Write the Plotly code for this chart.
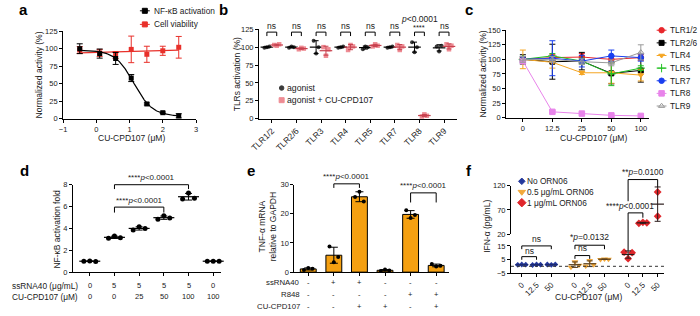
import numpy as np
import plotly.graph_objects as go

W, H = 700, 316
FONT = "Liberation Sans, Arial, Helvetica, sans-serif"
INK = "#1a1a1a"

# ======================= DATA =======================
# (a) dose response, log10 concentration
a_log_conc = [-0.5, 0.1, 0.58, 1.05, 1.52, 2.0, 2.48]
a_nfkb = [100, 93, 86, 58, 21, 8.5, 4]
a_nfkb_sd = [7, 6.5, 8.5, 5, 1.5, 1, 3]
a_viability = [98, 94, 91, 99, 92, 97, 102]
a_viability_sd = [5, 5, 5, 19, 11.5, 6.5, 15.5]
a_xticks = [-1, 0, 1, 2, 3]

# (b) TLR selectivity, replicates
b_tlrs = ["TLR1/2", "TLR2/6", "TLR3", "TLR4", "TLR5", "TLR7", "TLR8", "TLR9"]
b_agonist_reps = [[99, 100, 101], [99, 101, 100], [109, 91, 100], [99, 100, 101],
                  [97, 101, 100], [99, 100, 101], [107, 93, 100], [101, 94, 102]]
b_cu_reps = [[103, 102, 104], [97, 99, 98], [100, 88, 97], [96, 103, 101],
             [101, 104, 102], [103, 96, 101], [3, 6, 4], [104, 97, 102]]
b_sig = ["ns", "ns", "ns", "ns", "ns", "ns", "****", "ns"]
b_tlr8_p = "<i>p</i>&lt;0.0001"

# (c) concentration series per TLR
c_conc_labels = ["0", "12.5", "25", "50", "100"]
c_tlr12 = [100, 103, 104, 100, 103]
c_tlr12_sd = [4, 5, 6, 5, 5]
c_tlr26 = [100, 96, 97, 76, 81]
c_tlr26_sd = [8, 30, 15, 18, 20]
c_tlr4 = [100, 95, 77, 77, 73]
c_tlr4_sd = [16, 10, 3, 18, 10]
c_tlr5 = [100, 106, 97, 75, 85]
c_tlr5_sd = [5, 4, 5, 20, 4]
c_tlr7 = [100, 102, 97, 106, 103]
c_tlr7_sd = [5, 30, 10, 10, 6]
c_tlr8 = [97, 10, 7, 4, 3]
c_tlr8_sd = [3, 2, 2, 2, 2]
c_tlr9 = [100, 100, 96, 94, 112]
c_tlr9_sd = [5, 5, 5, 5, 13]
c_names = ["TLR1/2", "TLR2/6", "TLR4", "TLR5", "TLR7", "TLR8", "TLR9"]

# (d) NF-kB activation fold
d_ssrna40 = ["0", "5", "5", "5", "5", "0"]
d_cu = ["0", "0", "25", "50", "100", "100"]
d_fold_reps = [[1.0, 1.02, 0.98], [3.1, 3.3, 3.15], [3.85, 4.15, 4.0],
               [4.85, 5.15, 4.95], [6.7, 7.25, 6.75], [1.0, 1.0, 1.0]]

# (e) TNF-a mRNA
e_ssrna40 = ["-", "+", "+", "-", "-", "-"]
e_r848 = ["-", "-", "-", "-", "+", "+"]
e_cu = ["-", "-", "+", "+", "-", "+"]
e_tnf_reps = [[0.7, 1.4, 1.2], [8.8, 3.4, 5.2], [25.8, 27.6, 24.2],
              [0.4, 0.9, 0.6], [21.2, 18.6, 19.6], [2.8, 1.9, 2.2]]

# (f) IFN-a
f_conc_labels = ["0", "12.5", "50"]
f_groups = ["No ORN06", "0.5 μg/mL ORN06", "1 μg/mL ORN06"]
f_no_reps = [[1.1, 1.3, 1.2], [1.0, 1.4, 1.2], [1.3, 1.1, 1.4]]
f_05_reps = [[-0.6, 3.4, 0.8], [0.3, 4.3, 1.1], [5.0, 5.4, 5.2]]
f_1_reps = [[10.4, 5.6, 10.0], [42.5, 44.5, 43.5], [107, 57]]

# ======================= GEOMETRY (pixels) =======================
BOX = {
    'a': dict(px=(55, 190), py=(28, 118), xr=(-1, 3), yr=(0, 125)),
    'b': dict(px=(254, 455), py=(26, 118), xr=(-0.52, 7.52), yr=(0, 125)),
    'c': dict(px=(505, 650), py=(27, 117), xr=(-0.57, 4.27), yr=(0, 150)),
    'd': dict(px=(65, 215), py=(186, 276), xr=(-0.68, 5.3), yr=(0, 8)),
    'e': dict(px=(290, 447), py=(186, 276), xr=(-0.54, 5.5), yr=(0, 30)),
    'f': dict(px=(510, 665), py=(249, 277), xr=(-0.73, 9.6), yr=(-5, 15)),
    'ft': dict(px=(510, 665), py=(187, 237), xr=(-0.73, 9.6), yr=(20, 120)),
}
F_GROUP_STEP = 3.6


def X(p, v):
    b = BOX[p]
    return b['px'][0] + (v - b['xr'][0]) / (b['xr'][1] - b['xr'][0]) * (b['px'][1] - b['px'][0])


def Y(p, v):
    b = BOX[p]
    return b['py'][1] - (v - b['yr'][0]) / (b['yr'][1] - b['yr'][0]) * (b['py'][1] - b['py'][0])


def axis(p, which, **kw):
    b = BOX[p]
    if which == 'x':
        d = dict(domain=[b['px'][0] / W, b['px'][1] / W], range=list(b['xr']))
    else:
        d = dict(domain=[1 - b['py'][1] / H, 1 - b['py'][0] / H], range=list(b['yr']))
    d.update(showline=True, linecolor='black', linewidth=1, ticks='outside', ticklen=3,
             tickwidth=1, tickcolor='black', showgrid=False, zeroline=False, fixedrange=True,
             tickfont=dict(family=FONT, size=7.5, color=INK))
    d.update(kw)
    return d


fig = go.Figure()
shapes, annots = [], []


def text(x, y, t, size=8, xanchor='center', yanchor='middle', angle=0, color=INK):
    annots.append(dict(xref='paper', yref='paper', x=x / W, y=1 - y / H, text=t, showarrow=False,
                       xanchor=xanchor, yanchor=yanchor, textangle=angle, borderpad=0,
                       font=dict(family=FONT, size=size, color=color)))


def polyline(pts, width=1, color='black', dash=None):
    path = "M" + " L".join(f"{x / W:.5f},{1 - y / H:.5f}" for x, y in pts)
    shapes.append(dict(type='path', xref='paper', yref='paper', path=path,
                       line=dict(color=color, width=width, dash=dash)))


def bracket(x0, x1, ytop, yleg0, yleg1=None):
    if yleg1 is None:
        yleg1 = yleg0
    polyline([(x0, yleg0), (x0, ytop), (x1, ytop), (x1, yleg1)])


def dotplot(xc, reps, xa, ya, dot_color, symbol, size, err_color, mean_w, cap, offs):
    reps = np.array(reps, dtype=float)
    n = len(reps)
    o = offs[n] if n in offs else [0] * n
    fig.add_trace(go.Scatter(x=[xc + k for k in o], y=reps, mode='markers', xaxis=xa, yaxis=ya,
                             marker=dict(symbol=symbol, size=size, color=dot_color, line=dict(width=0)),
                             showlegend=False, hoverinfo='skip', cliponaxis=False))
    fig.add_trace(go.Scatter(x=[xc], y=[reps.mean()], mode='markers', xaxis=xa, yaxis=ya,
                             marker=dict(symbol='line-ew', size=mean_w, color=err_color,
                                         line=dict(width=1.2, color=err_color)),
                             error_y=dict(type='data', array=[reps.std(ddof=1)], visible=True,
                                          color=err_color, thickness=1, width=cap),
                             showlegend=False, hoverinfo='skip', cliponaxis=False))


# ======================= PANEL a =======================
RED = "#e8302a"
xg = np.array(a_log_conc, dtype=float)
yg = np.array(a_nfkb, dtype=float)
cs = np.linspace(0.3, 2.0, 171)
hs = np.linspace(0.3, 4.0, 186)
C, HH = np.meshgrid(cs, hs, indexing='ij')
S = 1 / (1 + 10 ** ((xg[None, None, :] - C[..., None]) * HH[..., None]))
U, V = S, 1 - S
Suu, Svv, Suv = (U * U).sum(-1), (V * V).sum(-1), (U * V).sum(-1)
Suy, Svy = (U * yg).sum(-1), (V * yg).sum(-1)
det = Suu * Svv - Suv ** 2
TOP = (Svv * Suy - Suv * Svy) / det
BOT = (Suu * Svy - Suv * Suy) / det
SSE = ((TOP[..., None] * U + BOT[..., None] * V - yg) ** 2).sum(-1)
i, j = np.unravel_index(np.argmin(SSE), SSE.shape)
ic50, hill, top, bot = cs[i], hs[j], TOP[i, j], BOT[i, j]
xc = np.linspace(xg.min(), xg.max(), 200)
yc = bot + (top - bot) / (1 + 10 ** ((xc - ic50) * hill))

slope, icpt = np.polyfit(xg, np.array(a_viability, dtype=float), 1)
xv = np.array([xg.min(), xg.max()])

fig.add_trace(go.Scatter(x=xv, y=slope * xv + icpt, mode='lines', line=dict(color=RED, width=1.2),
                         xaxis='x', yaxis='y', showlegend=False, hoverinfo='skip'))
fig.add_trace(go.Scatter(x=a_log_conc, y=a_viability, mode='markers', xaxis='x', yaxis='y',
                         marker=dict(symbol='square', size=5, color=RED),
                         error_y=dict(type='data', array=a_viability_sd, color=RED, thickness=1, width=3),
                         showlegend=False, hoverinfo='skip', cliponaxis=False))
fig.add_trace(go.Scatter(x=xc, y=yc, mode='lines', line=dict(color='black', width=1.2),
                         xaxis='x', yaxis='y', showlegend=False, hoverinfo='skip'))
fig.add_trace(go.Scatter(x=a_log_conc, y=a_nfkb, mode='markers', xaxis='x', yaxis='y',
                         marker=dict(symbol='square', size=5, color='black'),
                         error_y=dict(type='data', array=a_nfkb_sd, color='black', thickness=1, width=3),
                         showlegend=False, hoverinfo='skip', cliponaxis=False))

# ======================= PANEL b =======================
B_AG, B_CU, B_CU_ERR = "#3a3a3a", "#ee8c94", "#c8424f"
for k in range(len(b_tlrs)):
    dotplot(k - 0.2, b_agonist_reps[k], 'x2', 'y2', B_AG, 'circle', 4, 'black', 9, 2.5,
            {3: [-0.1, 0, 0.1]})
    dotplot(k + 0.2, b_cu_reps[k], 'x2', 'y2', B_CU, 'square', 4.5, B_CU_ERR, 9, 2.5,
            {3: [-0.1, 0, 0.1]})
    bracket(X('b', k - 0.2), X('b', k + 0.2), Y('b', 121), Y('b', 115.5))
    if b_sig[k] == 'ns':
        text(X('b', k), Y('b', 130), 'ns', size=8.5)
    else:
        text(X('b', k), Y('b', 127.5), b_sig[k], size=7.5)
        text(X('b', k), Y('b', 139), b_tlr8_p, size=8.5)

# ======================= PANEL c =======================
c_series = [
    (c_tlr12, c_tlr12_sd, "#e8262b", 'circle', 5.5),
    (c_tlr26, c_tlr26_sd, "#000000", 'square', 5),
    (c_tlr4, c_tlr4_sd, "#f5a623", 'triangle-down', 5),
    (c_tlr5, c_tlr5_sd, "#22c022", 'cross-thin', 6),
    (c_tlr7, c_tlr7_sd, "#1a3ff0", 'circle', 5.5),
    (c_tlr8, c_tlr8_sd, "#e884ea", 'square', 5.5),
    (c_tlr9, c_tlr9_sd, "#9a9a9a", 'triangle-up-open', 5.5),
]
for vals, sd, col, sym, sz in c_series:
    fig.add_trace(go.Scatter(x=list(range(len(c_conc_labels))), y=vals, mode='lines+markers',
                             xaxis='x3', yaxis='y3', line=dict(color=col, width=1),
                             marker=dict(symbol=sym, size=sz, color=col, line=dict(color=col, width=1)),
                             error_y=dict(type='data', array=sd, color=col, thickness=1, width=3),
                             showlegend=False, hoverinfo='skip', cliponaxis=False))

# ======================= PANEL d =======================
for k, reps in enumerate(d_fold_reps):
    dotplot(k, reps, 'x4', 'y4', 'black', 'circle', 5, 'black', 15, 3.5,
            {3: [-0.24, 0, 0.24]})
bracket(X('d', 1), X('d', 4), Y('d', 8.0), Y('d', 7.6))
text((X('d', 1) + X('d', 4)) / 2, Y('d', 8.7), "****<i>p</i>&lt;0.0001", size=8)
bracket(X('d', 1), X('d', 3), Y('d', 5.95), Y('d', 5.45))
text((X('d', 1) + X('d', 3)) / 2, Y('d', 6.6), "****<i>p</i>&lt;0.0001", size=8)
for k in range(len(d_ssrna40)):
    text(X('d', k), 290, d_ssrna40[k], size=7.5)
    text(X('d', k), 301.5, d_cu[k], size=7.5)
text(71, 290, "ssRNA40 (μg/mL)", size=8.3, xanchor='right')
text(71, 301.5, "CU-CPD107 (μM)", size=8.3, xanchor='right')

# ======================= PANEL e =======================
E_OR = "#f5a011"
e_arr = [np.array(r, dtype=float) for r in e_tnf_reps]
fig.add_trace(go.Bar(x=list(range(len(e_arr))), y=[r.mean() for r in e_arr], width=0.62,
                     xaxis='x5', yaxis='y5', marker=dict(color=E_OR, line=dict(color='black', width=1)),
                     error_y=dict(type='data', array=[r.std(ddof=1) for r in e_arr], color='black',
                                  thickness=1, width=4),
                     showlegend=False, hoverinfo='skip'))
for k, r in enumerate(e_arr):
    fig.add_trace(go.Scatter(x=[k - 0.17, k, k + 0.17], y=r, mode='markers', xaxis='x5', yaxis='y5',
                             marker=dict(size=4, color='black'), showlegend=False,
                             hoverinfo='skip', cliponaxis=False))
bracket(X('e', 1), X('e', 2), Y('e', 30.3), Y('e', 28.9))
text((X('e', 1) + X('e', 2)) / 2, Y('e', 32.8), "****<i>p</i>&lt;0.0001", size=8)
bracket(X('e', 4), X('e', 5), Y('e', 27.2), Y('e', 23.9))
text((X('e', 4) + X('e', 5)) / 2, Y('e', 29.8), "****<i>p</i>&lt;0.0001", size=8)
E_ROWS = [287, 299.5, 311.5]
for k in range(len(e_ssrna40)):
    text(X('e', k), E_ROWS[0], e_ssrna40[k], size=7.5)
    text(X('e', k), E_ROWS[1], e_r848[k], size=7.5)
    text(X('e', k), E_ROWS[2], e_cu[k], size=7.5)
text(297, E_ROWS[0], "ssRNA40", size=7.8, xanchor='right')
text(297, E_ROWS[1], "R848", size=7.8, xanchor='right')
text(297, E_ROWS[2], "CU-CPD107", size=7.8, xanchor='right')

# ======================= PANEL f =======================
F_COL = ["#24389c", "#f2a93b", "#e0262b"]
F_ERR = ["#1c2a70", "#5a4020", "#2a1a1a"]
F_SYM = ['diamond', 'triangle-down', 'diamond']
F_SZ = [4.5, 6, 6]
f_all = [f_no_reps, f_05_reps, f_1_reps]
f_pos = []
for g, reps_list in enumerate(f_all):
    for jj, reps in enumerate(reps_list):
        xpos = g * F_GROUP_STEP + jj
        f_pos.append(xpos)
        ya = 'y6' if np.mean(reps) < 17 else 'y7'
        dotplot(xpos, reps, 'x6', ya, F_COL[g], F_SYM[g], F_SZ[g], F_ERR[g], 9, 3,
                {3: [-0.27, 0, 0.27], 2: [0, 0]})
# dotted baseline at zero
polyline([(BOX['f']['px'][0], Y('f', 0)), (668, Y('f', 0))], width=1, color='#333333', dash='dot')
g1 = [0 * F_GROUP_STEP + q for q in range(3)]
g2 = [1 * F_GROUP_STEP + q for q in range(3)]
g3 = [2 * F_GROUP_STEP + q for q in range(3)]
bracket(X('f', g1[0]), X('f', g1[2]), Y('f', 15), Y('f', 12.6))
text(X('f', g1[1]), Y('f', 19.8), 'ns', size=8.5)
bracket(X('f', g1[0]), X('f', g1[1]), Y('f', 7.1), Y('f', 4.8))
text((X('f', g1[0]) + X('f', g1[1])) / 2, Y('f', 11.2), 'ns', size=8.5)
bracket(X('f', g2[0]), X('f', g2[2]), Y('f', 15.5), Y('f', 12.6))
text(X('f', g2[1]), Y('f', 21.4), '*<i>p</i>=0.0132', size=8.5)
bracket(X('f', g2[0]), X('f', g2[1]), Y('f', 7.9), Y('f', 5.5))
text((X('f', g2[0]) + X('f', g2[1])) / 2, Y('f', 13.1), 'ns', size=8.5)
polyline([(X('f', g3[0]), Y('ft', 88)), (X('f', g3[0]), Y('ft', 132.6)),
          (X('f', g3[2]), Y('ft', 132.6)), (X('f', g3[2]), Y('ft', 117.4))])
polyline([(X('f', g3[0]), Y('f', 11.5)), (X('f', g3[0]), Y('ft', 64)),
          (X('f', g3[1]), Y('ft', 64)), (X('f', g3[1]), Y('ft', 54))])
text(X('f', g3[0]) + 2, Y('ft', 77.4), "****<i>p</i>&lt;0.0001", size=8.3)
text((X('f', g3[0]) + X('f', g3[2])) / 2, Y('ft', 148.6), "**<i>p</i>=0.0100", size=8.3)

# ======================= LEGENDS (overlay, pixel space) =======================
LEG = 'x7', 'y8'


def leg_glyph(x, y, sym, col, size, line=None, lw=1):
    if line is not None:
        fig.add_trace(go.Scatter(x=list(line), y=[y, y], mode='lines', xaxis=LEG[0], yaxis=LEG[1],
                                 line=dict(color=col, width=lw), showlegend=False, hoverinfo='skip'))
    fig.add_trace(go.Scatter(x=[x], y=[y], mode='markers', xaxis=LEG[0], yaxis=LEG[1],
                             marker=dict(symbol=sym, size=size, color=col, line=dict(color=col, width=1)),
                             showlegend=False, hoverinfo='skip', cliponaxis=False))


# a legend
for yy, name, col in [(7, "NF-κB activation", 'black'), (21, "Cell viability", RED)]:
    leg_glyph(138, yy, 'square', col, 5, line=(133, 143))
    text(146.5, yy, name, size=8.3, xanchor='left')
# b legend
leg_glyph(277, 86.5, 'circle', B_AG, 4.5)
text(281.5, 86.5, "agonist", size=8.7, xanchor='left')
leg_glyph(277, 99, 'square', B_CU, 5)
text(281.5, 99, "agonist + CU-CPD107", size=8.7, xanchor='left')
# c legend
for q, (name, ser) in enumerate(zip(c_names, c_series)):
    yy = 27 + 13 * q
    leg_glyph(663, yy, ser[3], ser[2], ser[4], line=(658, 668))
    text(671, yy, name, size=8.3, xanchor='left')
# f legend
for q, name in enumerate(f_groups):
    yy = 182.5 + 11 * q
    leg_glyph(521, yy, F_SYM[q], F_COL[q], F_SZ[q] + 0.5)
    text(525.5, yy, name, size=8.3, xanchor='left')

# ======================= TITLES & LETTERS =======================
text(30, 73, "Normalized activity (%)", size=8.5, angle=-90)
text(124, 137.5, "CU-CPD107 (μM)", size=8.5)
text(232, 72, "TLRs activation (%)", size=8.5, angle=-90)
text(482, 72, "Normalized activity (%)", size=8.5, angle=-90)
text(594, 137.5, "CU-CPD107 (μM)", size=8.5)
text(49, 232, "NF-κB activation fold", size=8.5, angle=-90)
text(263, 229, "TNF-α mRNA<br>relative to GAPDH", size=8.5, angle=-90)
text(486, 229, "IFN-α (pg/mL)", size=8.5, angle=-90)
text(589, 302, "CU-CPD107 (μM)", size=8.5)
for letter, lx, ly in [('a', 15, 5.5), ('b', 218, 5.5), ('c', 467, 5.5),
                       ('d', 16, 171), ('e', 246, 171), ('f', 467, 171)]:
    text(lx, ly, f"<b>{letter}</b>", size=15, color='black')

# ======================= AXES =======================
fig.update_layout(
    width=W, height=H, margin=dict(l=0, r=0, t=0, b=0),
    paper_bgcolor='white', plot_bgcolor='rgba(0,0,0,0)', showlegend=False,
    font=dict(family=FONT, color=INK),
    xaxis=axis('a', 'x', anchor='y', tickvals=a_xticks),
    yaxis=axis('a', 'y', anchor='x', tickvals=[0, 25, 50, 75, 100, 125]),
    xaxis2=axis('b', 'x', anchor='y2', tickvals=list(range(len(b_tlrs))), ticktext=b_tlrs,
                tickangle=-45, tickfont=dict(family=FONT, size=8.5, color=INK)),
    yaxis2=axis('b', 'y', anchor='x2', tickvals=[0, 25, 50, 75, 100, 125]),
    xaxis3=axis('c', 'x', anchor='y3', tickvals=list(range(len(c_conc_labels))), ticktext=c_conc_labels),
    yaxis3=axis('c', 'y', anchor='x3', tickvals=[0, 25, 50, 75, 100, 125, 150]),
    xaxis4=axis('d', 'x', anchor='y4', tickvals=list(range(len(d_ssrna40))), showticklabels=False),
    yaxis4=axis('d', 'y', anchor='x4', tickvals=[0, 2, 4, 6, 8]),
    xaxis5=axis('e', 'x', anchor='y5', tickvals=list(range(len(e_ssrna40))), showticklabels=False),
    yaxis5=axis('e', 'y', anchor='x5', tickvals=[0, 10, 20, 30]),
    xaxis6=axis('f', 'x', anchor='y6', tickvals=f_pos, ticktext=f_conc_labels * 3, tickangle=-45,
                tickfont=dict(family=FONT, size=8, color=INK)),
    yaxis6=axis('f', 'y', anchor='x6', tickvals=[-5, 5, 15]),
    yaxis7=axis('ft', 'y', anchor='x6', tickvals=[20, 70, 120]),
    xaxis7=dict(domain=[0, 1], range=[0, W], visible=False, anchor='y8', fixedrange=True),
    yaxis8=dict(domain=[0, 1], range=[H, 0], visible=False, anchor='x7', fixedrange=True),
    shapes=shapes, annotations=annots,
)
fig.update_layout(bargap=0)

fig.write_html("out.html", config={'displayModeBar': False, 'staticPlot': True},
               post_script="document.body.style.margin='0';document.body.style.overflow='hidden';")
